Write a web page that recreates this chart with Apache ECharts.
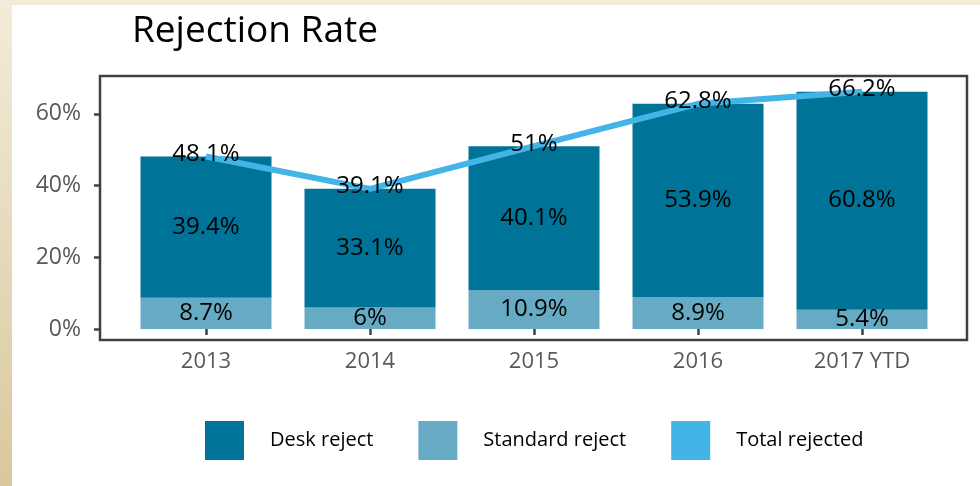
<!DOCTYPE html>
<html>
<head>
<meta charset="utf-8">
<script src="https://cdn.jsdelivr.net/npm/echarts@6/dist/echarts.min.js"></script>
<style>
  html, body { margin: 0; padding: 0; }
  body {
    width: 980px;
    height: 486px;
    position: relative;
    overflow: hidden;
    background: linear-gradient(to bottom, #f2ecda, #d9c89d);
  }
  .panel {
    position: absolute;
    left: 12px;
    top: 5px;
    right: 0;
    bottom: 0;
    background: #ffffff;
  }
  #myChart {
    position: absolute;
    left: 0;
    top: 0;
    width: 980px;
    height: 486px;
  }
</style>
</head>
<body>
<div class="panel"></div>
<div id="myChart"></div>
<script>
const years = ['2013', '2014', '2015', '2016', '2017 YTD']
const deskReject = [39.4, 33.1, 40.1, 53.9, 60.8]
const standardReject = [8.7, 6, 10.9, 8.9, 5.4]
const totalRejected = [48.1, 39.1, 51, 62.8, 66.2]
const yTicks = [0, 20, 40, 60]

const font = 'Open Sans'
const pct = p => p.value + '%'

const myChart = echarts.init(document.getElementById('myChart'))
myChart.setOption({
  textStyle: { fontFamily: font },
  title: {
    text: 'Rejection Rate',
    left: 132,
    top: 13,
    padding: 0,
    textStyle: { fontFamily: font, fontSize: 37, fontWeight: 'normal', color: '#000' }
  },
  legend: {
    left: 205,
    top: 421,
    padding: 0,
    itemWidth: 39,
    itemHeight: 39,
    itemGap: 45,
    icon: 'rect',
    data: ['Desk reject', 'Standard reject', 'Total rejected'],
    textStyle: { fontFamily: font, fontSize: 20, color: '#000', padding: [0, 0, 0, 21] }
  },
  // plot area border like the original
  graphic: [{
    type: 'rect',
    silent: true,
    z: 10,
    shape: { x: 100, y: 76, width: 867, height: 264 },
    style: { fill: null, stroke: '#404040', lineWidth: 2.5 }
  }],
  grid: {
    left: 124,
    right: 36,
    top: 76,
    bottom: 146
  },
  xAxis: {
    type: 'category',
    data: years,
    boundaryGap: true,
    axisLine: { show: false },
    axisTick: { show: true, alignWithLabel: true, length: 6, lineStyle: { color: '#404040', width: 2.5 } },
    axisLabel: { color: '#595959', fontSize: 22, fontFamily: font, margin: 11 }
  },
  yAxis: {
    type: 'value',
    min: -3.07,
    max: 70.57,
    offset: 24,
    splitLine: { show: false },
    axisLine: { show: false },
    axisTick: { show: true, length: 6, customValues: yTicks, lineStyle: { color: '#404040', width: 2.5 } },
    axisLabel: {
      customValues: yTicks,
      formatter: '{value}%',
      color: '#595959',
      fontSize: 23,
      fontFamily: font,
      margin: 19
    }
  },
  series: [
    {
      name: 'Standard reject',
      type: 'bar',
      stack: 'rej',
      barWidth: 131,
      data: standardReject,
      itemStyle: { color: '#66abc3' },
      label: { show: true, position: 'inside', formatter: pct, color: '#000', fontSize: 24, fontFamily: font }
    },
    {
      name: 'Desk reject',
      type: 'bar',
      stack: 'rej',
      barWidth: 131,
      data: deskReject,
      itemStyle: { color: '#007398' },
      label: { show: true, position: 'inside', formatter: pct, color: '#000', fontSize: 24, fontFamily: font }
    },
    {
      name: 'Total rejected',
      type: 'line',
      data: totalRejected,
      symbol: 'circle',
      symbolSize: 1,
      showSymbol: true,
      z: 5,
      color: '#42b4e6',
      lineStyle: { color: '#42b4e6', width: 6 },
      itemStyle: { color: '#42b4e6' },
      label: { show: true, position: 'top', distance: -10, formatter: pct, color: '#000', fontSize: 24, fontFamily: font }
    }
  ]
})
</script>
</body>
</html>
